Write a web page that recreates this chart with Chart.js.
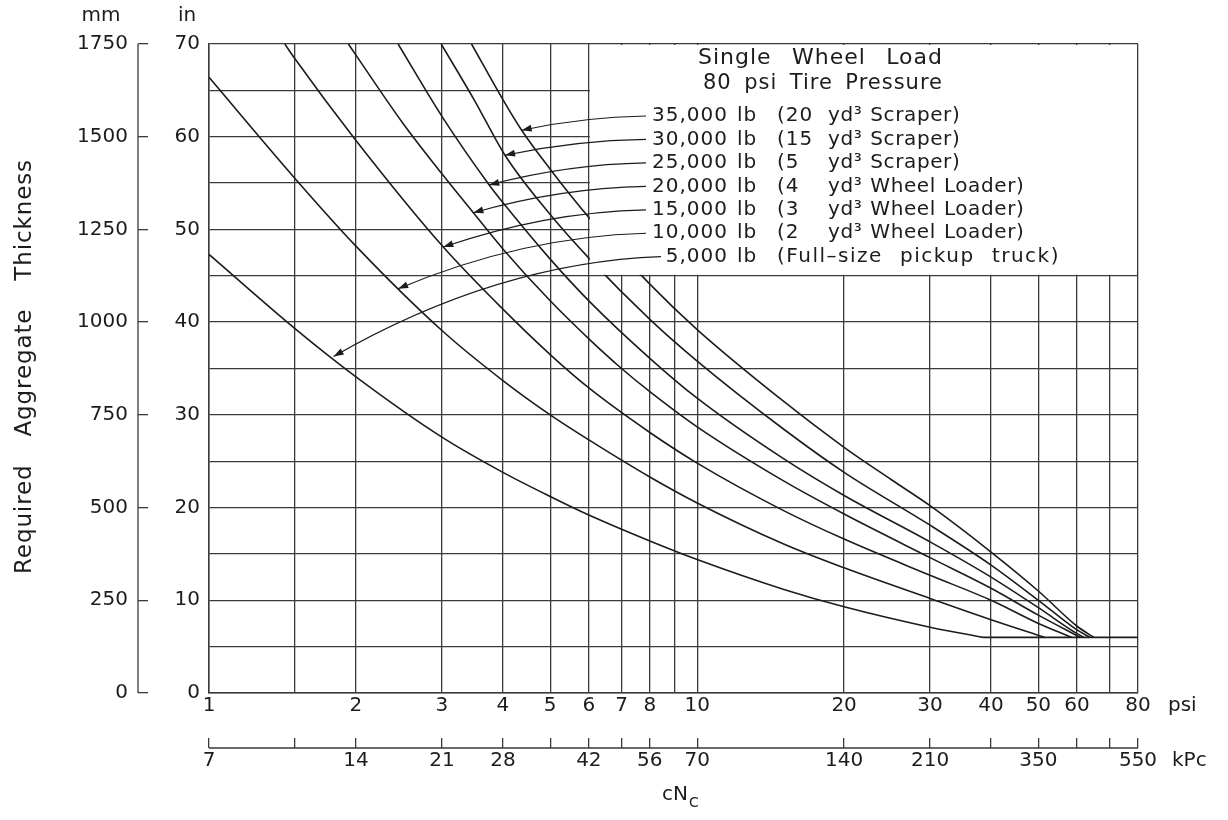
<!DOCTYPE html>
<html>
<head>
<meta charset="utf-8">
<script src="https://cdn.jsdelivr.net/npm/chart.js@4.4.0/dist/chart.umd.min.js"></script>
<style>
  html, body { margin: 0; padding: 0; background: #fff; }
  #wrap { width: 1228px; height: 820px; }
</style>
</head>
<body>
<div id="wrap"><canvas id="chart" width="1228" height="820"></canvas></div>
<script>
// Required aggregate thickness (in) against cNc (psi), one curve per single wheel load
const loads = ['35,000', '30,000', '25,000', '20,000', '15,000', '10,000', '5,000'];
const bucket = ['20', '15', '5', '4', '3', '2', null];
const machine = ['Scraper', 'Scraper', 'Scraper', 'Wheel Loader', 'Wheel Loader', 'Wheel Loader', 'Full\u2013size pickup truck'];

const psi35k = [3.45, 4, 4.37, 5, 6, 8, 10, 15, 20, 25, 30, 40, 50, 60, 65];
const in35k  = [70, 64.0, 60.7, 56.5, 51.3, 44.1, 39.2, 31.5, 26.5, 23.0, 20.2, 15.2, 11.0, 7.2, 6];
const psi30k = [2.99, 3.5, 4.04, 5, 6, 8, 10, 15, 20, 30, 40, 50, 60, 63.8];
const in30k  = [70, 63.9, 58.0, 51.6, 46.9, 40.3, 35.8, 28.5, 23.8, 18.1, 13.8, 10.0, 6.8, 6];
const psi25k = [2.44, 3, 3.75, 4, 5, 6, 8, 10, 15, 20, 30, 40, 50, 60, 62];
const in25k  = [70, 62.2, 54.8, 52.9, 46.8, 42.3, 36.1, 31.8, 25.3, 21.3, 16.3, 12.5, 9.2, 6.4, 6];
const psi20k = [1.93, 2, 2.5, 3, 3.48, 4, 5, 6, 7, 8, 10, 15, 20, 30, 40, 50, 60.9];
const in20k  = [70, 68.8, 61.4, 56.0, 51.8, 47.9, 42.3, 38.2, 35.0, 32.5, 28.7, 22.9, 19.3, 14.6, 11.3, 8.4, 6];
const psi15k = [1.43, 1.5, 2, 3.02, 4, 5, 6, 8, 10, 15, 20, 30, 40, 50, 58.5];
const in15k  = [70, 68.4, 59.6, 48.1, 41.4, 36.5, 32.9, 28.1, 24.8, 19.7, 16.6, 12.7, 10.0, 7.5, 6];
const psi10k = [1, 1.5, 2, 3, 4, 5, 6, 8, 10, 15, 20, 30, 40, 51.5];
const in10k  = [66.4, 55.5, 48.2, 39.1, 33.7, 30.0, 27.3, 23.3, 20.5, 16.1, 13.5, 10.2, 7.9, 6];
const psi5k  = [1, 1.5, 2, 3, 4, 5, 6, 8, 10, 15, 20, 30, 38.5];
const in5k   = [47.3, 39.3, 34.1, 27.6, 23.8, 21.2, 19.2, 16.4, 14.4, 11.2, 9.3, 7.1, 6];
// 6 in minimum thickness
const floorPsi = [38.5, 80];
const floorIn  = [6, 6];

// where each leader arrow touches its curve (same order as loads)
const arrowPsi = [4.37, 4.04, 3.75, 3.48, 3.02, 2.44, 1.80];
const arrowIn  = [60.7, 58.0, 54.8, 51.8, 48.1, 43.6, 36.3];

// axes
const psiGrid   = [1, 1.5, 2, 3, 4, 5, 6, 7, 8, 9, 10, 20, 30, 40, 50, 60, 70, 80];
const psiLabels = [1, 2, 3, 4, 5, 6, 7, 8, 10, 20, 30, 40, 50, 60, 80];
const kpcGrid   = [1, 1.5, 2, 3, 4, 5, 6, 7, 8, 10, 20, 30, 40, 50, 60, 70, 80];
const kpcAt     = [1, 2, 3, 4, 6, 8, 10, 20, 30, 50, 80];
const kpcText   = ['7', '14', '21', '28', '42', '56', '70', '140', '210', '350', '550'];
const inGrid    = [0, 5, 10, 15, 20, 25, 30, 35, 40, 45, 50, 55, 60, 65, 70];
const mmGrid    = [0, 250, 500, 750, 1000, 1250, 1500, 1750];

const ink = '#1c1c1c';
const gridInk = '#3a3a3a';
const face = '"DejaVu Sans", "Liberation Sans", sans-serif';

const curves = [[psi35k, in35k], [psi30k, in30k], [psi25k, in25k], [psi20k, in20k],
                [psi15k, in15k], [psi10k, in10k], [psi5k, in5k], [floorPsi, floorIn]];

// stretch a string to a given width, mostly by widening the word gaps
function fitText(ctx, str, x, y, width, ls) {
    ctx.letterSpacing = ls + 'px';
    ctx.wordSpacing = '0px';
    const natural = ctx.measureText(str).width;
    const gaps = str.split(' ').length - 1;
    if (gaps > 0) ctx.wordSpacing = Math.max(0, (width - natural) / gaps).toFixed(2) + 'px';
    ctx.fillText(str, x, y);
    ctx.letterSpacing = '0px';
    ctx.wordSpacing = '0px';
}

const decor = {
    id: 'decor',
    afterDatasetsDraw(chart) {
        const { ctx, chartArea: area } = chart;
        const x = chart.scales.x, y = chart.scales.y;
        // label box sits over the upper right part of the grid
        const bl = x.getPixelForValue(6);
        const bb = y.getPixelForValue(45);
        ctx.save();
        ctx.fillStyle = '#fff';
        ctx.fillRect(bl + 1, area.top + 1, area.right - bl - 2, bb - area.top - 2);

        ctx.fillStyle = ink;
        ctx.textBaseline = 'middle';
        ctx.textAlign = 'left';
        ctx.font = '22px ' + face;
        fitText(ctx, 'Single Wheel Load', 698, 58, 245, 1);
        ctx.font = '21px ' + face;
        fitText(ctx, '80 psi Tire Pressure', 703, 84, 240, 1);

        ctx.font = '20px ' + face;
        const rowY = i => 116 + i * 23.45;
        loads.forEach((w, i) => {
            const ry = rowY(i);
            ctx.textAlign = 'right';
            ctx.letterSpacing = '1px';
            ctx.fillText(w, 728, ry);
            ctx.textAlign = 'left';
            ctx.fillText('lb', 737, ry);
            if (bucket[i]) {
                ctx.fillText('(' + bucket[i], 777, ry);
                ctx.letterSpacing = '0.6px';
                ctx.wordSpacing = '1px';
                ctx.fillText('yd\u00b3 ' + machine[i] + ')', 828, ry);
                ctx.wordSpacing = '0px';
            } else {
                fitText(ctx, '(' + machine[i] + ')', 777, ry, 283, 1.5);
            }
            ctx.letterSpacing = '0px';
        });

        // leaders with arrowheads
        ctx.strokeStyle = ink;
        ctx.lineWidth = 1.2;
        arrowPsi.forEach((p, i) => {
            const tx = x.getPixelForValue(p), ty = y.getPixelForValue(arrowIn[i]);
            const sx = bucket[i] ? 646 : 661, sy = rowY(i);
            const cx = sx - 0.5 * (sx - tx), cy = sy + 0.06 * (ty - sy);
            ctx.beginPath();
            ctx.moveTo(sx, sy);
            ctx.quadraticCurveTo(cx, cy, tx, ty);
            ctx.stroke();
            const a = Math.atan2(ty - cy, tx - cx);
            ctx.beginPath();
            ctx.moveTo(tx, ty);
            ctx.lineTo(tx - 10 * Math.cos(a) + 3.5 * Math.sin(a), ty - 10 * Math.sin(a) - 3.5 * Math.cos(a));
            ctx.lineTo(tx - 10 * Math.cos(a) - 3.5 * Math.sin(a), ty - 10 * Math.sin(a) + 3.5 * Math.cos(a));
            ctx.closePath();
            ctx.fill();
        });
        ctx.restore();
    },
    afterDraw(chart) {
        const { ctx } = chart;
        const ymm = chart.scales.ymm, xk = chart.scales.xk;
        ctx.save();
        ctx.strokeStyle = gridInk;
        ctx.lineWidth = 1.3;
        // mm axis line (ticks point right, towards the plot)
        const mx = ymm.right - 10;
        ctx.beginPath();
        ctx.moveTo(mx, ymm.getPixelForValue(0));
        ctx.lineTo(mx, ymm.getPixelForValue(1750));
        ctx.stroke();
        // kPc axis line (ticks point up)
        const ky = xk.top + 10;
        ctx.beginPath();
        ctx.moveTo(xk.getPixelForValue(1), ky);
        ctx.lineTo(xk.getPixelForValue(80), ky);
        ctx.stroke();

        ctx.fillStyle = ink;
        ctx.textBaseline = 'middle';
        ctx.font = '20px ' + face;
        ctx.textAlign = 'center';
        ctx.fillText('mm', 101, 16);
        ctx.fillText('in', 187, 16);
        ctx.textAlign = 'left';
        ctx.fillText('psi', 1168, 706);
        ctx.fillText('kPc', 1172, 761);
        // cN with subscript C
        ctx.fillText('cN', 662, 795);
        const w = ctx.measureText('cN').width;
        ctx.font = '14px ' + face;
        ctx.fillText('C', 662 + w + 1, 803);

        ctx.font = '23px ' + face;
        ctx.translate(25, 362);
        ctx.rotate(-Math.PI / 2);
        fitText(ctx, 'Required Aggregate Thickness', -212, 0, 415, 0.9);
        ctx.restore();
    }
};

const tickFont = { family: face, size: 20 };

new Chart(document.getElementById('chart'), {
    type: 'line',
    data: {
        datasets: curves.map(([px, th], i) => ({
            label: i < loads.length ? loads[i] + ' lb' : 'minimum',
            data: px.map((p, j) => ({ x: p, y: th[j] })),
            borderColor: ink,
            borderWidth: 1.6,
            pointRadius: 0,
            fill: false,
            cubicInterpolationMode: 'monotone'
        }))
    },
    options: {
        responsive: false,
        animation: false,
        devicePixelRatio: 1,
        layout: { padding: { left: 0, right: 90, top: 44, bottom: 22 } },
        plugins: { legend: { display: false }, tooltip: { enabled: false } },
        scales: {
            x: {
                type: 'logarithmic', position: 'bottom', min: 1, max: 80, weight: 0,
                afterBuildTicks: s => { s.ticks = psiGrid.map(v => ({ value: v })); },
                afterFit: s => { s.height = 45; },
                grid: { color: gridInk, lineWidth: 1.3, drawTicks: false },
                border: { display: true, color: gridInk, width: 1.5 },
                ticks: {
                    autoSkip: false, maxRotation: 0, padding: 1, font: tickFont, color: ink,
                    callback: v => psiLabels.includes(v) ? String(v) : ''
                }
            },
            xk: {
                type: 'logarithmic', position: 'bottom', min: 1, max: 80, weight: 1,
                afterBuildTicks: s => { s.ticks = kpcGrid.map(v => ({ value: v })); },
                afterFit: s => { s.height = 60; },
                grid: { drawOnChartArea: false, drawTicks: true, tickLength: 10, color: gridInk, lineWidth: 1.3 },
                border: { display: false },
                ticks: {
                    autoSkip: false, maxRotation: 0, padding: 1, font: tickFont, color: ink,
                    callback: v => { const k = kpcAt.indexOf(v); return k >= 0 ? kpcText[k] : ''; }
                }
            },
            y: {
                type: 'linear', position: 'left', min: 0, max: 70, weight: 0,
                afterBuildTicks: s => { s.ticks = inGrid.map(v => ({ value: v })); },
                afterFit: s => { s.width = 61; },
                grid: { color: gridInk, lineWidth: 1.3, drawTicks: false },
                border: { display: true, color: gridInk, width: 1.5 },
                ticks: {
                    autoSkip: false, padding: 9, font: tickFont, color: ink,
                    callback: v => v % 10 === 0 ? String(v) : ''
                }
            },
            ymm: {
                type: 'linear', position: 'left', min: 0, max: 1750, weight: 1,
                afterBuildTicks: s => { s.ticks = mmGrid.map(v => ({ value: v })); },
                afterFit: s => { s.width = 148; },
                grid: { drawOnChartArea: false, drawTicks: true, tickLength: 10, color: gridInk, lineWidth: 1.3 },
                border: { display: false },
                ticks: { autoSkip: false, padding: 10, font: tickFont, color: ink, callback: v => String(v) }
            }
        }
    },
    plugins: [decor]
});
</script>
</body>
</html>
